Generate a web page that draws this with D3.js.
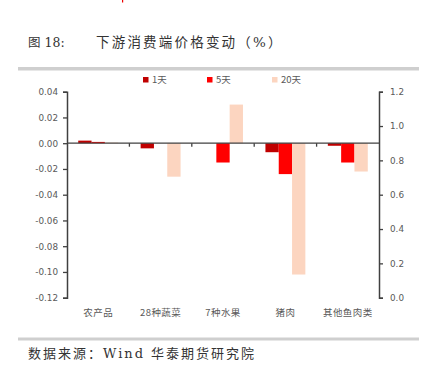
<!DOCTYPE html>
<html>
<head>
<meta charset="utf-8">
<script src="https://cdn.jsdelivr.net/npm/d3@7"></script>
<style>
  body { margin: 0; background: #fff; }
  svg { display: block; }
</style>
</head>
<body>
<svg width="422" height="368"></svg>
<script>
// values
const categories = ['农产品', '28种蔬菜', '7种水果', '猪肉', '其他鱼肉类'];
const seriesNames = ['1天', '5天', '20天'];
const day1 = [0.002, -0.004, 0, -0.007, -0.002];
const day5 = [0.001, 0, -0.015, -0.024, -0.015];
const day20 = [0.0005, -0.026, 0.03, -0.102, -0.022];
const leftTicks = [0.04, 0.02, 0, -0.02, -0.04, -0.06, -0.08, -0.10, -0.12];
const rightTicks = [0, 0.2, 0.4, 0.6, 0.8, 1.0, 1.2];
const colors = ['#C00000', '#FF0000', '#FCD5C0'];

const svg = d3.select('svg');
const cjk = '"Noto Sans CJK SC", "DejaVu Sans", sans-serif';
const serif = '"DejaVu Serif", "Liberation Serif", "Noto Sans CJK SC", serif';

// little red speck at top
svg.append('rect').attr('x', 122).attr('y', 0).attr('width', 1.2).attr('height', 2.5).attr('fill', '#e00');

// title
svg.append('text').attr('x', 28).attr('y', 47)
  .style('font-family', serif).style('font-size', '12.5px').attr('fill', '#333')
  .text('图 18:');
svg.append('text').attr('x', 96).attr('y', 47)
  .style('font-family', serif).style('font-size', '13.5px').style('letter-spacing', '2.2px').attr('fill', '#333')
  .text('下游消费端价格变动（%）');

// grey rules
svg.append('rect').attr('x', 18).attr('y', 67).attr('width', 401).attr('height', 3.5).attr('fill', '#cfcfcf');
svg.append('rect').attr('x', 18).attr('y', 337.5).attr('width', 401).attr('height', 3).attr('fill', '#cfcfcf');

// footer
svg.append('text').attr('x', 28).attr('y', 358)
  .style('font-family', serif).style('font-size', '13px').style('letter-spacing', '2px').attr('fill', '#333')
  .text('数据来源：Wind 华泰期货研究院');

const pL = 67, pR = 379, pT = 91.7, pB = 297.7;

const y = d3.scaleLinear().domain([-0.12, 0.04]).range([pB, pT]);
const yR = d3.scaleLinear().domain([0, 1.2]).range([pB, pT]);
const x = d3.scaleBand().domain(categories).range([pL, pR]).paddingInner(0.36).paddingOuter(0.18);
const xs = d3.scaleBand().domain(seriesNames).range([0, x.bandwidth()]);

const table = categories.map((c, i) => ({cat: c, vals: [day1[i], day5[i], day20[i]]}));

const g = svg.append('g');
g.selectAll('g.grp').data(table).enter().append('g')
  .attr('class', 'grp')
  .attr('transform', d => `translate(${x(d.cat)},0)`)
  .selectAll('rect').data(d => d.vals.map((v, k) => ({v, k})))
  .enter().append('rect')
    .attr('x', d => xs(seriesNames[d.k]))
    .attr('width', xs.bandwidth())
    .attr('y', d => Math.min(y(d.v), y(0)))
    .attr('height', d => Math.abs(y(d.v) - y(0)))
    .attr('fill', d => colors[d.k]);

// zero line with category boundary ticks
const zl = svg.append('g');
zl.append('line').attr('x1', pL).attr('x2', pR).attr('y1', y(0)).attr('y2', y(0))
  .attr('stroke', '#404040').attr('stroke-width', 1.3);
const step = (pR - pL) / categories.length;
d3.range(1, categories.length).forEach(i => {
  zl.append('line').attr('x1', pL + i * step).attr('x2', pL + i * step)
    .attr('y1', y(0)).attr('y2', y(0) + 3.5).attr('stroke', '#404040').attr('stroke-width', 1.3);
});

// left axis
const axL = svg.append('g').attr('transform', `translate(${pL},0)`)
  .call(d3.axisLeft(y).tickValues(leftTicks).tickSize(4).tickSizeOuter(4).tickPadding(5).tickFormat(d3.format('.2f')));
// right axis
const axR = svg.append('g').attr('transform', `translate(${pR},0)`)
  .call(d3.axisRight(yR).tickValues(rightTicks).tickSize(4).tickSizeOuter(4).tickPadding(7).tickFormat(d3.format('.1f')));

[axL, axR].forEach(a => {
  a.select('.domain').attr('stroke', '#404040').attr('stroke-width', 1.5);
  a.selectAll('.tick line').attr('stroke', '#404040').attr('stroke-width', 1.3);
  a.selectAll('.tick text').attr('fill', '#595959')
    .style('font-family', '"DejaVu Sans", sans-serif').style('font-size', '8.8px');
});
axL.selectAll('.tick text').text(d => d3.format('.2f')(d).replace('−', '-'));

// category labels
svg.append('g').selectAll('text').data(categories).enter().append('text')
  .attr('x', d => x(d) + x.bandwidth() / 2)
  .attr('y', 316)
  .attr('text-anchor', 'middle')
  .attr('fill', '#595959')
  .style('font-family', cjk).style('font-size', '9.5px').style('letter-spacing', '0.4px')
  .text(d => d);

// legend
const legX = [143, 207, 272];
const leg = svg.append('g').selectAll('g').data(seriesNames).enter().append('g')
  .attr('transform', (d, i) => `translate(${legX[i]},80)`);
leg.append('rect').attr('x', 0).attr('y', -3).attr('width', 5.5).attr('height', 5.5)
  .attr('fill', (d, i) => colors[i]);
leg.append('text').attr('x', 9).attr('y', 3.3)
  .attr('fill', '#595959')
  .style('font-family', cjk).style('font-size', '9.5px')
  .text(d => d);
</script>
</body>
</html>
